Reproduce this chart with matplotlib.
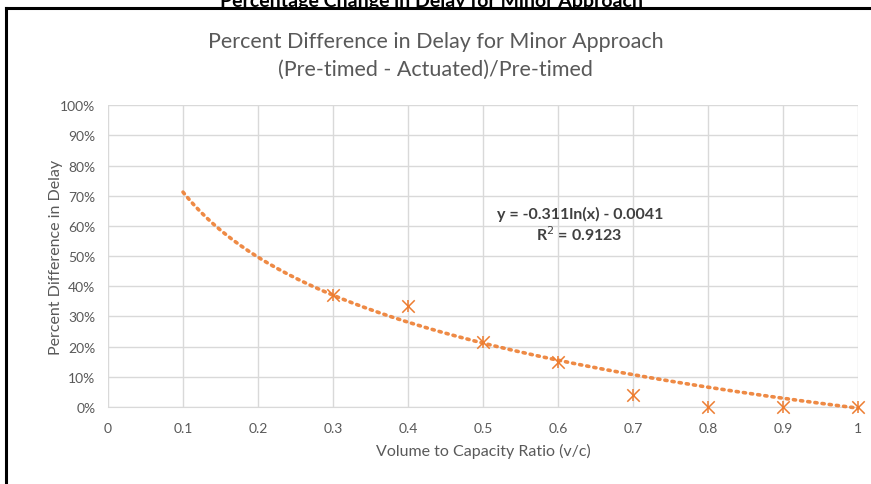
import numpy as np
import matplotlib.pyplot as plt
from matplotlib.lines import Line2D

# observed points (v/c ratio vs percent difference in delay)
vc_ratio = [0.3, 0.4, 0.5, 0.6, 0.7, 0.8, 0.9, 1.0]
pct_diff = [0.37, 0.335, 0.215, 0.15, 0.04, 0.0, 0.0, 0.0]

# logarithmic trendline as reported on the chart
trend_a = -0.311
trend_b = -0.0041
trend_r2 = 0.9123
trend_start = 0.1
trend_end = 1.0

x_ticks = [0, 0.1, 0.2, 0.3, 0.4, 0.5, 0.6, 0.7, 0.8, 0.9, 1]
x_tick_labels = ["0", "0.1", "0.2", "0.3", "0.4", "0.5", "0.6", "0.7", "0.8", "0.9", "1"]
y_ticks = [0, 0.1, 0.2, 0.3, 0.4, 0.5, 0.6, 0.7, 0.8, 0.9, 1.0]

ORANGE = "#ED7D31"
GRAY = "#595959"

plt.rcParams["font.family"] = ["Lato", "DejaVu Sans"]

fig = plt.figure(figsize=(8.71, 4.85), dpi=100)
ax = fig.add_axes([0.124, 0.159, 0.861, 0.622])

xs = np.linspace(trend_start, trend_end, 200)
ax.plot(xs, trend_a * np.log(xs) + trend_b, color=ORANGE, linestyle=(0, (0.6, 1.4)),
        linewidth=2.6, dash_capstyle="round", alpha=0.9, zorder=3, clip_on=False)

ax.scatter(vc_ratio, pct_diff, marker="x", s=80, color=ORANGE, linewidths=1.1, zorder=4, clip_on=False)
ax.scatter(vc_ratio, pct_diff, marker="|", s=80, color=ORANGE, linewidths=1.1, zorder=4, clip_on=False)

ax.set_xlim(0, 1)
ax.set_ylim(0, 1)
ax.set_xticks(x_ticks)
ax.set_xticklabels(x_tick_labels)
ax.set_yticks(y_ticks)
ax.set_yticklabels([f"{int(round(v * 100))}%" for v in y_ticks])
ax.tick_params(length=0, labelsize=10, labelcolor=GRAY)
ax.tick_params(axis="x", pad=11)
ax.tick_params(axis="y", pad=9)
ax.grid(True, color="#D9D9D9", linewidth=1)
ax.set_axisbelow(True)
for side in ["top", "right", "left"]:
    ax.spines[side].set_visible(False)
ax.spines["bottom"].set_color("#D9D9D9")

ax.set_xlabel("Volume to Capacity Ratio (v/c)", fontsize=11.5, color=GRAY, labelpad=6)
ax.set_ylabel("Percent Difference in Delay", fontsize=11.5, color=GRAY, labelpad=-2)

ax.text(0.629, 0.605, f"y = {trend_a}ln(x) - {abs(trend_b)}\nR$^2$ = {trend_r2}",
        ha="center", va="center", fontsize=11.5, fontweight="bold", color="#404040",
        linespacing=1.25)

fig.text(0.5, 0.884, "Percent Difference in Delay for Minor Approach\n(Pre-timed - Actuated)/Pre-timed",
         ha="center", va="center", fontsize=15.5, color=GRAY, linespacing=1.5)

# clipped figure caption above the chart frame
fig.text(0.495, 0.996, "Percentage Change in Delay for Minor Approach", ha="center", va="center",
         fontsize=14, fontweight="bold", color="black")
fig.add_artist(Line2D([0.007, 1.0], [0.982, 0.982], color="black", linewidth=2.2))
fig.add_artist(Line2D([0.007, 0.007], [0.0, 0.982], color="black", linewidth=2.2))

fig.savefig("out.png", dpi=100)
